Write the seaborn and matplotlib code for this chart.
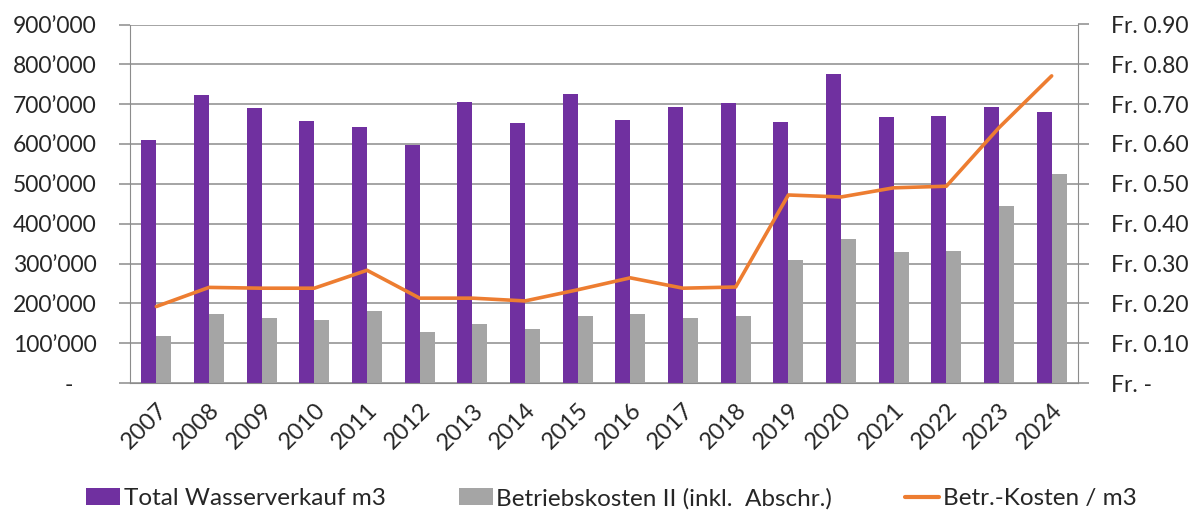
import numpy as np
import pandas as pd
import matplotlib
matplotlib.use("Agg")
import matplotlib.pyplot as plt
import seaborn as sns
from matplotlib.ticker import FuncFormatter, FixedLocator

# -----------------------------
# Data
# -----------------------------

years = [str(y) for y in range(2007, 2025)]

wasserverkauf = [610000, 723000, 691000, 658000, 642000, 598000, 705000, 653000, 725000,
                 659000, 692000, 703000, 654000, 775000, 669000, 670000, 694000, 681000]

betriebskosten = [118000, 173000, 164000, 157000, 180000, 127000, 149000, 135000, 169000,
                  173000, 164000, 169000, 310000, 362000, 328000, 331000, 445000, 525000]

kosten_pro_m3 = [0.192, 0.240, 0.238, 0.238, 0.283, 0.213, 0.213, 0.206, 0.234,
                 0.264, 0.238, 0.241, 0.472, 0.467, 0.490, 0.494, 0.641, 0.771]

bar_labels = ["Total Wasserverkauf m3", "Betriebskosten II (inkl.  Abschr.)"]
line_label = "Betr.-Kosten / m3"

purple = "#7030A0"
grey = "#A5A5A5"
orange = "#ED7D31"
grid_col = "#8C8C8C"

bars = pd.DataFrame({
    "Jahr": years * 2,
    "Serie": [bar_labels[0]] * len(years) + [bar_labels[1]] * len(years),
    "Wert": wasserverkauf + betriebskosten,
})
line = pd.DataFrame({"Jahr": years, "Kosten": kosten_pro_m3})

# -----------------------------
# Plot
# -----------------------------

sns.set_style("white")
plt.rcParams["font.family"] = ["Lato", "DejaVu Sans"]
plt.rcParams["font.size"] = 16

fig = plt.figure(figsize=(11.92, 5.13), dpi=100)
ax = fig.add_axes([130 / 1192, 1 - 383 / 513, (1078 - 130) / 1192, (383 - 24.5) / 513])

sns.barplot(data=bars, x="Jahr", y="Wert", hue="Serie",
            palette=[purple, grey], width=0.57, gap=0, linewidth=0,
            saturation=1, ax=ax)
handles, labels = ax.get_legend_handles_labels()
ax.get_legend().remove()

ax.set_ylim(0, 900000)
ax.set_xlim(-0.5, len(years) - 0.5)
ax.set_yticks(np.arange(0, 900001, 100000))
ax.yaxis.set_major_formatter(FuncFormatter(
    lambda v, p: "-    " if v == 0 else f"{int(v):,}".replace(",", "\u2019")))
ax.grid(axis="y", color=grid_col, linewidth=1.1)
ax.set_axisbelow(True)
ax.set_xlabel("")
ax.set_ylabel("")

ax2 = ax.twinx()
sns.pointplot(data=line, x="Jahr", y="Kosten", color=orange, marker="",
              linewidth=2.6, ax=ax2)
ax2.set_ylim(0, 0.9)
ax2.set_xlim(-0.5, len(years) - 0.5)
ax2.set_yticks(np.arange(0, 0.91, 0.1))
ax2.yaxis.set_major_formatter(FuncFormatter(
    lambda v, p: "Fr. -" if abs(v) < 1e-9 else f"Fr. {v:.2f}"))
ax2.set_ylabel("")
ax2.set_xlabel("")
ax2.grid(False)

for a in (ax, ax2):
    for s in a.spines.values():
        s.set_visible(False)
ax.spines["left"].set_visible(True)
ax.spines["left"].set_color(grid_col)
ax.spines["bottom"].set_visible(True)
ax.spines["bottom"].set_color(grid_col)
ax2.spines["right"].set_visible(True)
ax2.spines["right"].set_color(grid_col)

ax.tick_params(axis="y", length=8, color=grid_col, width=1.1, pad=16, labelsize=16.5)
ax2.tick_params(axis="y", length=8, color=grid_col, width=1.1, pad=16, labelsize=16.5)

# year labels centred, tick marks between categories
ax.tick_params(axis="x", which="major", length=0, pad=12, labelsize=17)
ax.xaxis.set_minor_locator(FixedLocator(np.arange(-0.5, len(years), 1)))
ax.tick_params(axis="x", which="minor", length=8, color=grid_col, width=1.1)
plt.setp(ax.get_xticklabels(), rotation=45, ha="right", rotation_mode="anchor")

fig.legend(handles + [plt.Line2D([], [], color=orange, linewidth=3)],
           labels + [line_label], loc="lower center", bbox_to_anchor=(0.513, -0.035),
           ncol=3, frameon=False, fontsize=17.5, handlelength=1.4, handleheight=0.7,
           handletextpad=0.15, columnspacing=3.0)

fig.savefig("out.png", dpi=100)
